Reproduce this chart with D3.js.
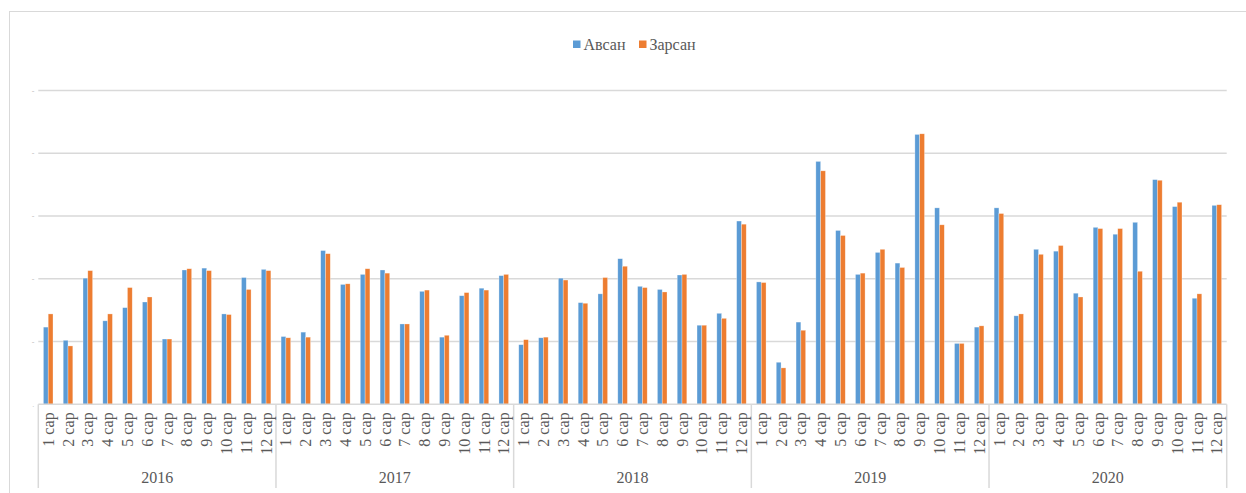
<!DOCTYPE html>
<html>
<head>
<meta charset="utf-8">
<script src="https://cdn.jsdelivr.net/npm/d3@7"></script>
<style>
  html, body { margin: 0; padding: 0; background: #fff; }
  #bar { width: 1246px; height: 493px; overflow: hidden; }
  text { font-family: "Liberation Serif", "Times New Roman", serif; fill: #595959; }
</style>
</head>
<body>
<div id="bar"></div>
<script>
// data (1 unit = one gridline step)
const years = ['2016', '2017', '2018', '2019', '2020']
const months = ['1 сар', '2 сар', '3 сар', '4 сар', '5 сар', '6 сар',
  '7 сар', '8 сар', '9 сар', '10 сар', '11 сар', '12 сар']
const seriesNames = ['Авсан', 'Зарсан']
const avsan = [
  1.23, 1.02, 2.01, 1.33, 1.54, 1.63, 1.04, 2.14, 2.17, 1.44, 2.02, 2.15,
  1.08, 1.15, 2.45, 1.91, 2.07, 2.14, 1.28, 1.80, 1.07, 1.73, 1.85, 2.05,
  0.95, 1.06, 2.01, 1.62, 1.76, 2.32, 1.88, 1.83, 2.06, 1.26, 1.45, 2.92,
  1.95, 0.67, 1.31, 3.87, 2.77, 2.07, 2.42, 2.25, 4.30, 3.13, 0.97, 1.23,
  3.13, 1.41, 2.47, 2.44, 1.77, 2.82, 2.71, 2.90, 3.58, 3.15, 1.69, 3.17
]
const zarsan = [
  1.44, 0.93, 2.13, 1.44, 1.86, 1.71, 1.04, 2.16, 2.13, 1.43, 1.83, 2.13,
  1.06, 1.07, 2.40, 1.92, 2.16, 2.09, 1.28, 1.82, 1.10, 1.78, 1.82, 2.07,
  1.03, 1.07, 1.98, 1.61, 2.02, 2.20, 1.86, 1.79, 2.07, 1.26, 1.37, 2.87,
  1.94, 0.58, 1.18, 3.72, 2.69, 2.09, 2.47, 2.18, 4.31, 2.86, 0.97, 1.25,
  3.04, 1.44, 2.39, 2.53, 1.71, 2.80, 2.80, 2.12, 3.57, 3.22, 1.76, 3.18
]
const yTicks = [0, 1, 2, 3, 4, 5]
const colors = ['#5B9BD5', '#ED7D31']

class GroupedBar {
  constructor (conf) {
    Object.assign(this, conf)
    this.init()
  }

  init () {
    this.svg = d3.select(`#${this.id}`)
      .append('svg')
      .attr('width', this.width)
      .attr('height', this.height)
    // chart frame (runs off the right and bottom of the picture)
    this.svg.append('rect')
      .attr('x', 9.5).attr('y', 11.5)
      .attr('width', 1260).attr('height', 520)
      .style('fill', 'none')
      .style('stroke', '#d9d9d9')

    this.keys = []
    years.forEach(y => months.forEach(m => this.keys.push(`${y}|${m}`)))
    this.rows = this.keys.map((k, i) => ({ key: k, values: [avsan[i], zarsan[i]] }))

    this.x0 = d3.scaleBand()
      .domain(this.keys)
      .range([this.left, this.right])
      .paddingInner(0.515)
      .paddingOuter(0.2575)
    this.x1 = d3.scaleBand()
      .domain(d3.range(seriesNames.length))
      .range([0, this.x0.bandwidth()])
    this.y = d3.scaleLinear()
      .domain([0, 5])
      .range([this.bottom, this.top])
  }

  draw () {
    this.drawGrid()
    this.drawBars()
    this.drawAxis()
    this.drawLegend()
  }

  drawGrid () {
    this.svg.append('g')
      .selectAll('line')
      .data(yTicks.filter(t => t > 0))
      .join('line')
      .attr('x1', this.left).attr('x2', this.right)
      .attr('y1', d => this.y(d)).attr('y2', d => this.y(d))
      .style('stroke', '#d9d9d9')
      .style('stroke-width', '1.5px')

    // y axis has only dash labels
    const yAxis = d3.axisLeft(this.y)
      .tickValues(yTicks)
      .tickSize(0)
      .tickPadding(3)
      .tickFormat(d => d === 0 ? '.' : '-')
    const gy = this.svg.append('g')
      .attr('transform', `translate(${this.left - 1}, 0)`)
      .call(yAxis)
    gy.select('.domain').remove()
    gy.selectAll('text')
      .style('font-size', '8px')
      .style('fill', '#bfbfbf')
  }

  drawBars () {
    this.svg.append('g')
      .selectAll('g')
      .data(this.rows)
      .join('g')
      .attr('transform', d => `translate(${this.x0(d.key)}, 0)`)
      .selectAll('rect')
      .data(d => d.values)
      .join('rect')
      .attr('x', (d, i) => this.x1(i))
      .attr('width', this.x1.bandwidth())
      .attr('y', d => this.y(d))
      .attr('height', d => this.bottom - this.y(d))
      .style('fill', (d, i) => colors[i])
      .style('stroke', 'rgba(255,255,255,0.5)')
      .style('stroke-width', '0.6px')
  }

  drawAxis () {
    const g = this.svg.append('g')
    const step = this.x0.step()
    const yearWidth = step * months.length

    // baseline
    g.append('line')
      .attr('x1', this.left).attr('x2', this.right)
      .attr('y1', this.bottom).attr('y2', this.bottom)
      .style('stroke', '#d9d9d9')
      .style('stroke-width', '1.5px')

    // year separators
    g.selectAll('.sep')
      .data(d3.range(years.length + 1))
      .join('line')
      .attr('class', 'sep')
      .attr('x1', i => this.left + i * yearWidth)
      .attr('x2', i => this.left + i * yearWidth)
      .attr('y1', this.bottom).attr('y2', 488)
      .style('stroke', '#d9d9d9')
      .style('stroke-width', '1.5px')

    // month labels, rotated
    g.selectAll('.month')
      .data(this.keys)
      .join('text')
      .attr('class', 'month')
      .attr('transform', d => `translate(${this.x0(d) + this.x0.bandwidth() / 2}, ${this.bottom + 8}) rotate(-90)`)
      .attr('text-anchor', 'end')
      .attr('dy', '0.35em')
      .style('font-size', '16px')
      .text(d => d.split('|')[1])

    // year labels
    g.selectAll('.year')
      .data(years)
      .join('text')
      .attr('class', 'year')
      .attr('x', (d, i) => this.left + (i + 0.5) * yearWidth)
      .attr('y', 483)
      .attr('text-anchor', 'middle')
      .style('font-size', '16px')
      .text(d => d)
  }

  drawLegend () {
    const items = [{ x: 573 }, { x: 639 }]
    const g = this.svg.append('g')
    items.forEach((item, i) => {
      g.append('rect')
        .attr('x', item.x).attr('y', 40.5)
        .attr('width', 7.5).attr('height', 7.5)
        .style('fill', colors[i])
      g.append('text')
        .attr('x', item.x + 10.5)
        .attr('y', 49.5)
        .style('font-size', '16px')
        .text(seriesNames[i])
    })
  }
}

new GroupedBar({
  id: 'bar',
  width: 1246,
  height: 493,
  left: 38.3,
  right: 1226.7,
  top: 90.5,
  bottom: 404.3
}).draw()
</script>
</body>
</html>
